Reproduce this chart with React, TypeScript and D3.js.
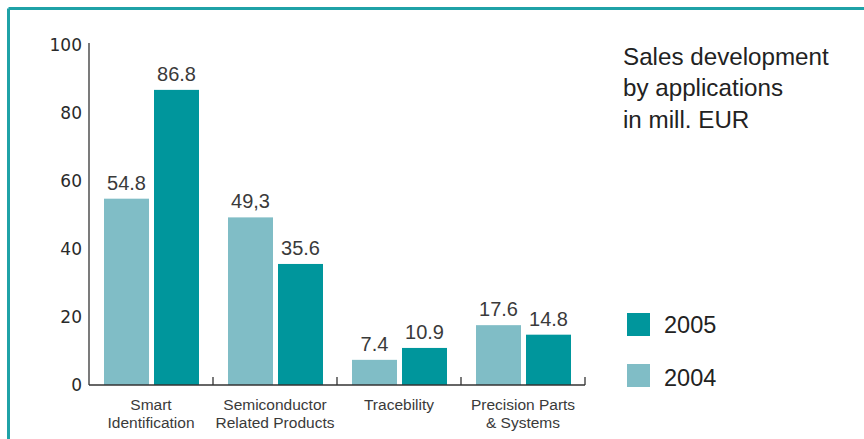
import React from 'react';
import * as d3 from 'd3';

const categories = [
    ['Smart', 'Identification'],
    ['Semiconductor', 'Related Products'],
    ['Tracebility'],
    ['Precision Parts', '& Systems'],
];
const values2004 = [54.8, 49.3, 7.4, 17.6];
const values2005 = [86.8, 35.6, 10.9, 14.8];
const labels2004 = ['54.8', '49,3', '7.4', '17.6'];
const labels2005 = ['86.8', '35.6', '10.9', '14.8'];
const yTicks = [0, 20, 40, 60, 80, 100];
const titleLines = ['Sales development', 'by applications', 'in mill. EUR'];

const W = 864;
const H = 439;
const C2005 = '#00969c';
const C2004 = '#80bdc6';
const FRAME = '#1fa2a7';
const SANS = '"Liberation Sans", Arial, Helvetica, sans-serif';

const App: React.FC = () => {
    const x0 = d3.scaleBand<number>()
        .domain(d3.range(categories.length))
        .range([89, 585]);
    const x1 = d3.scaleBand<string>()
        .domain(['2004', '2005'])
        .range([15, 110])
        .paddingInner(0.1);
    const y = d3.scaleLinear().domain([0, 100]).range([385, 45]);

    const series = [
        { key: '2004', values: values2004, labels: labels2004, color: C2004 },
        { key: '2005', values: values2005, labels: labels2005, color: C2005 },
    ];

    return (
        <div style={{ position: 'fixed', left: 0, top: 0 }}>
            <svg width={W} height={H} style={{ display: 'block', background: '#fff' }}>
                {/* frame: top and left edges only */}
                <line x1={8.5} y1={8.5} x2={W} y2={8.5} stroke={FRAME} strokeWidth={3} />
                <line x1={8.5} y1={8.5} x2={8.5} y2={H} stroke={FRAME} strokeWidth={3} />

                {/* y axis */}
                <line x1={89} y1={43} x2={89} y2={y(0)} stroke="#333" strokeWidth={1.3} />
                {yTicks.map((t) => (
                    <text key={t} x={82} y={y(t)} dy="0.36em" textAnchor="end"
                        fontFamily='"DejaVu Sans", sans-serif' fontSize={17} fill="#2a2a2a">
                        {t}
                    </text>
                ))}

                {/* bars */}
                {series.map((s) =>
                    s.values.map((v, i) => {
                        const bx = (x0(i) ?? 0) + (x1(s.key) ?? 0);
                        return (
                            <g key={s.key + i}>
                                <rect x={bx} y={y(v)} width={x1.bandwidth()} height={y(0) - y(v)} fill={s.color} />
                                <text x={bx + x1.bandwidth() / 2} y={y(v) - 9} textAnchor="middle"
                                    fontFamily={SANS} fontSize={20} fill="#3a3a3a">
                                    {s.labels[i]}
                                </text>
                            </g>
                        );
                    })
                )}

                {/* x axis */}
                <line x1={89} y1={y(0)} x2={585} y2={y(0)} stroke="#333" strokeWidth={1.3} />
                {categories.map((c, i) => {
                    const right = (x0(i) ?? 0) + x0.bandwidth();
                    const cx = (x0(i) ?? 0) + x0.bandwidth() / 2;
                    return (
                        <g key={i}>
                            <line x1={right} y1={y(0) - 8} x2={right} y2={y(0)} stroke="#333" strokeWidth={1.3} />
                            {c.map((line, j) => (
                                <text key={j} x={cx} y={410 + j * 18} textAnchor="middle"
                                    fontFamily={SANS} fontSize={15.5} fill="#3a3a3a">
                                    {line}
                                </text>
                            ))}
                        </g>
                    );
                })}

                {/* title */}
                {titleLines.map((t, i) => (
                    <text key={t} x={623} y={64.5 + i * 31.5} fontFamily={SANS} fontSize={24.2} fill="#222">
                        {t}
                    </text>
                ))}

                {/* legend */}
                {[series[1], series[0]].map((s, i) => (
                    <g key={s.key}>
                        <rect x={627} y={313 + i * 51} width={23} height={23} fill={s.color} />
                        <text x={664} y={333 + i * 53} fontFamily={SANS} fontSize={23.5} fill="#222">
                            {s.key}
                        </text>
                    </g>
                ))}
            </svg>
        </div>
    );
};

export default App;
